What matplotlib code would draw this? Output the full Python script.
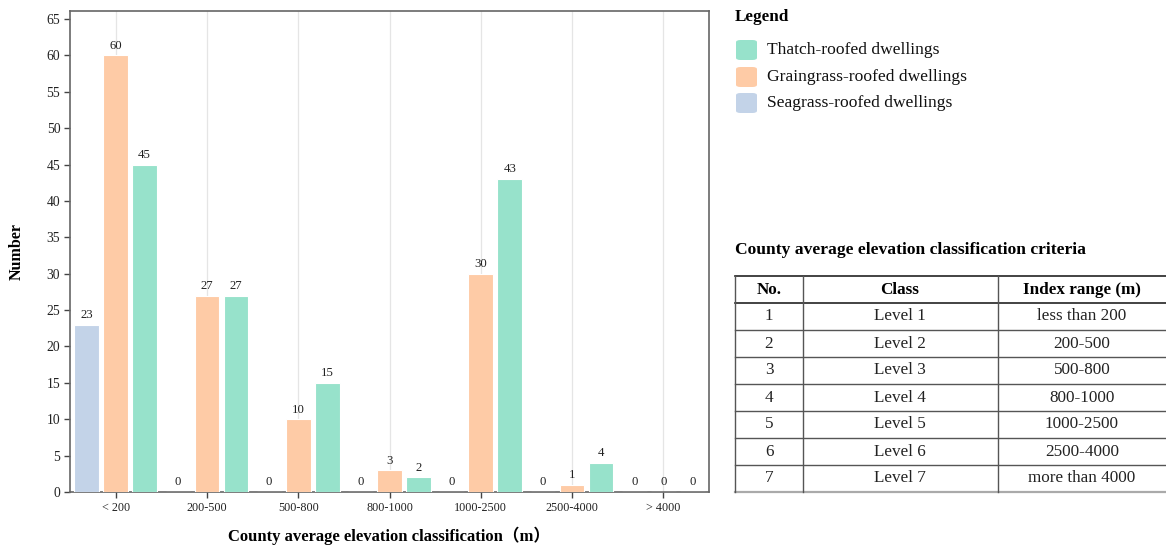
import matplotlib
matplotlib.use("Agg")
import matplotlib.pyplot as plt
from matplotlib.patches import FancyBboxPatch
from matplotlib.lines import Line2D
import numpy as np

plt.rcParams['font.family'] = ['Liberation Serif', 'Noto Sans CJK SC', 'DejaVu Sans']

categories = ["< 200", "200-500", "500-800", "800-1000", "1000-2500", "2500-4000", "> 4000"]
seagrass = [23, 0, 0, 0, 0, 0, 0]
graingrass = [60, 27, 10, 3, 30, 1, 0]
thatch = [45, 27, 15, 2, 43, 4, 0]
series_names = ["Thatch-roofed dwellings", "Graingrass-roofed dwellings", "Seagrass-roofed dwellings"]
yticks = list(range(0, 66, 5))

table_header = ["No.", "Class", "Index range (m)"]
table_no = ["1", "2", "3", "4", "5", "6", "7"]
table_class = ["Level 1", "Level 2", "Level 3", "Level 4", "Level 5", "Level 6", "Level 7"]
table_range = ["less than 200", "200-500", "500-800", "800-1000", "1000-2500", "2500-4000", "more than 4000"]

c_blue = "#c3d3e8"
c_orange = "#fecba6"
c_green = "#97e2cb"

W, H = 1166, 547
fig = plt.figure(figsize=(W / 100, H / 100), dpi=100)

def fx(px):
    return px / W

def fy(py):
    return 1 - py / H

ax = fig.add_axes([fx(70), fy(492), fx(709) - fx(70), fy(11) - fy(492)])
x = np.arange(len(categories))
bw = 0.27
off = 0.318
groups = [(seagrass, c_blue, -off), (graingrass, c_orange, 0), (thatch, c_green, off)]
for vals, col, o in groups:
    ax.bar(x + o, vals, width=bw, color=col, edgecolor="white", linewidth=0.8, zorder=3)
    for xi, v in zip(x + o, vals):
        ax.text(xi, v + 0.5, str(v), ha="center", va="bottom", fontsize=9.2, color="#222222", zorder=4)

ax.set_xlim(-0.5, 6.5)
ax.set_ylim(0, 66.1)
ax.set_xticks(x)
ax.set_xticklabels(categories, fontsize=8.7)
ax.set_yticks(yticks)
ax.set_yticklabels([str(t) for t in yticks], fontsize=9.8)
ax.grid(axis="x", color="#e5e5e5", linewidth=0.9, zorder=0)
ax.grid(axis="y", visible=False)
for s in ax.spines.values():
    s.set_color("#666666")
    s.set_linewidth(1.2)
ax.tick_params(axis="both", direction="out", length=4, width=1, color="#444444", labelcolor="#222222", pad=3)
ax.set_ylabel("Number", fontsize=11.5, fontweight="bold", labelpad=16)
ax.set_xlabel("County average elevation classification（m）", fontsize=12, fontweight="bold", labelpad=9)

# Legend
fig.text(fx(735), fy(17), "Legend", fontsize=12.3, fontweight="bold", ha="left", va="center")
leg_cols = [c_green, c_orange, c_blue]
leg_y = [50, 77, 103]
for name, col, yy in zip(series_names, leg_cols, leg_y):
    p = FancyBboxPatch((fx(736), fy(yy + 10)), fx(21), fy(yy - 10) - fy(yy + 10),
                       boxstyle="round,pad=0,rounding_size=0.004", transform=fig.transFigure,
                       facecolor=col, edgecolor="none")
    fig.add_artist(p)
    fig.text(fx(767), fy(yy), name, fontsize=12.6, ha="left", va="center", color="#111111")

# Table
fig.text(fx(735), fy(250), "County average elevation classification criteria", fontsize=12.6,
         fontweight="bold", ha="left", va="center")
row_lines = [276 + 27 * i for i in range(9)]
col_lines = [735, 803, 998]
tleft, tright = 735, 1166
for i, yy in enumerate(row_lines):
    if i in (0, 1):
        col, lw = "#222222", 1.2
    elif i == 8:
        col, lw = "#aaaaaa", 1.6
    else:
        col, lw = "#555555", 1.0
    fig.add_artist(Line2D([fx(tleft), fx(tright)], [fy(yy), fy(yy)], transform=fig.transFigure,
                          color=col, linewidth=lw))
for xx in col_lines:
    fig.add_artist(Line2D([fx(xx), fx(xx)], [fy(row_lines[0]), fy(row_lines[-1])],
                          transform=fig.transFigure, color="#555555", linewidth=1.0))
col_centers = [769, 900, 1082]
hy = (row_lines[0] + row_lines[1]) / 2
for cx, h in zip(col_centers, table_header):
    fig.text(fx(cx), fy(hy), h, fontsize=12.3, fontweight="bold", ha="center", va="center")
for r in range(7):
    yy = (row_lines[r + 1] + row_lines[r + 2]) / 2
    for cx, vals in zip(col_centers, [table_no, table_class, table_range]):
        fig.text(fx(cx), fy(yy), vals[r], fontsize=12.3, ha="center", va="center", color="#222222")

fig.savefig("out.png", dpi=100)
